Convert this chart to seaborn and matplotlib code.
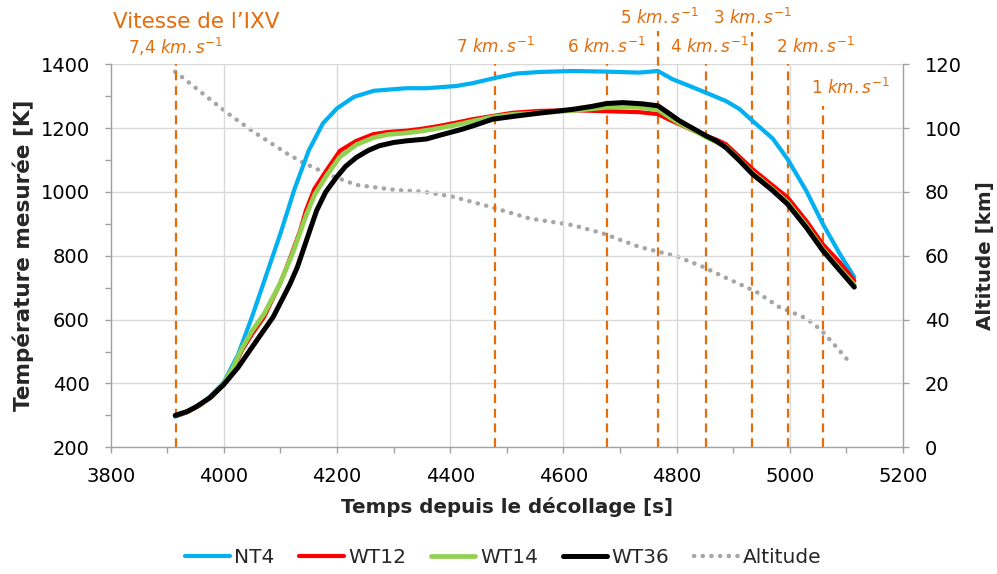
import numpy as np
import pandas as pd
import matplotlib
matplotlib.use("Agg")
import matplotlib.pyplot as plt
import matplotlib.transforms as mtransforms
from matplotlib.lines import Line2D
import seaborn as sns

# ---------------- data ----------------
nt4_t = [3914, 3935, 3952, 3975, 4000, 4025, 4050, 4075, 4100, 4125, 4150, 4175, 4200,
         4230, 4265, 4322, 4358, 4411, 4440, 4481, 4517, 4558, 4616, 4676, 4734, 4767,
         4793, 4823, 4852, 4887, 4911, 4934, 4970, 4996, 5029, 5058, 5088, 5114]
nt4_T = [296, 310, 327, 358, 404, 490, 610, 740, 870, 1010, 1130, 1215, 1262,
         1298, 1317, 1325, 1325, 1332, 1341, 1358, 1371, 1376, 1379, 1377, 1374, 1379,
         1353, 1332, 1311, 1285, 1260, 1223, 1167, 1103, 1004, 901, 807, 733]

wt12_t = [3915, 3935, 3958, 3980, 3998, 4015, 4032, 4050, 4071, 4099, 4110, 4122, 4135,
          4145, 4160, 4181, 4205, 4234, 4264, 4290, 4323, 4350, 4381, 4410, 4440, 4475,
          4510, 4558, 4617, 4676, 4734, 4767, 4785, 4805, 4830, 4852, 4870, 4887, 4910,
          4934, 4970, 4996, 5029, 5058, 5088, 5114]
wt12_T = [298, 310, 332, 360, 395, 440, 504, 555, 608, 712, 760, 817, 880,
          942, 1010, 1067, 1129, 1160, 1181, 1188, 1192, 1198, 1207, 1217, 1228, 1238,
          1248, 1254, 1256, 1253, 1250, 1244, 1228, 1212, 1192, 1176, 1164, 1150, 1112,
          1072, 1020, 983, 910, 837, 780, 722]

wt14_t = [3915, 3935, 3958, 3980, 3998, 4015, 4032, 4050, 4071, 4099, 4122, 4145, 4160,
          4181, 4205, 4234, 4264, 4290, 4323, 4350, 4381, 4410, 4440, 4475, 4510, 4558,
          4617, 4676, 4705, 4734, 4767, 4785, 4805, 4830, 4852, 4887, 4910, 4934, 4970,
          4996, 5029, 5058, 5088, 5114]
wt14_T = [300, 312, 333, 362, 397, 445, 510, 565, 618, 712, 810, 925, 990,
          1050, 1110, 1148, 1170, 1180, 1185, 1191, 1200, 1210, 1222, 1235, 1243, 1248,
          1255, 1265, 1267, 1265, 1258, 1237, 1215, 1193, 1172, 1142, 1102, 1060, 1008,
          968, 895, 822, 760, 710]

wt36_t = [3914, 3935, 3952, 3975, 3999, 4025, 4046, 4070, 4087, 4105, 4117, 4130, 4140,
          4152, 4164, 4180, 4199, 4215, 4234, 4255, 4275, 4300, 4322, 4358, 4380, 4399,
          4420, 4440, 4475, 4517, 4558, 4617, 4650, 4676, 4705, 4740, 4767, 4785, 4805,
          4830, 4852, 4870, 4887, 4910, 4934, 4970, 4996, 5029, 5058, 5088, 5114]
wt36_T = [300, 312, 328, 355, 395, 450, 504, 565, 608, 670, 712, 765, 817,
          880, 942, 1000, 1046, 1080, 1108, 1130, 1145, 1155, 1160, 1166, 1177, 1186,
          1196, 1207, 1228, 1238, 1247, 1259, 1268, 1277, 1280, 1276, 1270, 1248, 1223,
          1198, 1176, 1160, 1139, 1100, 1056, 1004, 962, 889, 817, 755, 702]

alt_t = [3914, 3970, 4011, 4052, 4111, 4140, 4187, 4234, 4305, 4352, 4405, 4470, 4540,
         4617, 4670, 4734, 4799, 4846, 4893, 4940, 4981, 5029, 5055, 5079, 5102]
alt_km = [117.7, 109.8, 104.1, 98.9, 92.1, 89.2, 85.3, 82.2, 80.6, 80.1, 78.5, 75.4, 71.7,
          69.6, 67.0, 62.8, 59.9, 56.6, 52.6, 48.8, 44.0, 40.4, 36.8, 32.1, 27.4]

vel_t = [3915, 4479, 4677, 4767, 4852, 4934, 4996, 5058]
vel_labels = ["7,4", "7", "6", "5", "4", "3", "2", "1"]

series_names = ["NT4", "WT12", "WT14", "WT36"]
x_ticks = [3800, 4000, 4200, 4400, 4600, 4800, 5000, 5200]
y_ticks = [200, 400, 600, 800, 1000, 1200, 1400]
alt_ticks = [0, 20, 40, 60, 80, 100, 120]

# ---------------- style ----------------
sns.set_theme(style="white")
plt.rcParams["font.family"] = ["DejaVu Sans"]
plt.rcParams["mathtext.fontset"] = "dejavusans"

ORANGE = "#E46C0A"
colors = {"NT4": "#00B0F0", "WT12": "#FF0000", "WT14": "#92D050", "WT36": "#000000"}
widths = {"NT4": 3.0, "WT12": 3.0, "WT14": 3.4, "WT36": 3.6}
GRAY = "#A6A6A6"
SPINE = "#A0A0A0"
DOTS = (0, (0.05, 1.9))

fig = plt.figure(figsize=(9.97, 5.74), dpi=100)
ax = fig.add_axes([0.111, 0.2207, 0.7947, 0.6673])
ax2 = ax.twinx()

frames = {
    "NT4": pd.DataFrame({"t": nt4_t, "T": nt4_T}),
    "WT12": pd.DataFrame({"t": wt12_t, "T": wt12_T}),
    "WT14": pd.DataFrame({"t": wt14_t, "T": wt14_T}),
    "WT36": pd.DataFrame({"t": wt36_t, "T": wt36_T}),
}
alt_df = pd.DataFrame({"t": alt_t, "alt": alt_km})

# gridlines
for v in y_ticks[1:]:
    ax.axhline(v, color="#D9D9D9", lw=1.0, zorder=0)
for v in x_ticks[1:-1]:
    ax.axvline(v, color="#D9D9D9", lw=1.0, zorder=0)

# velocity markers
tops = [1400, 1400, 1400, 1505, 1400, 1500, 1400, 1270]
for t, top in zip(vel_t, tops):
    ax.plot([t, t], [200, top], color=ORANGE, lw=1.6, ls=(0, (4, 2.6)),
            clip_on=False, zorder=1)

for name in series_names:
    sns.lineplot(data=frames[name], x="t", y="T", ax=ax, color=colors[name],
                 lw=widths[name], solid_capstyle="round", solid_joinstyle="round",
                 estimator=None, sort=False, zorder=3, legend=False)

sns.lineplot(data=alt_df, x="t", y="alt", ax=ax2, color=GRAY, lw=3.2,
             estimator=None, sort=False, legend=False)
ax2.lines[-1].set_linestyle(DOTS)
ax2.lines[-1].set_dash_capstyle("round")

ax.set_xlim(3800, 5200)
ax.set_ylim(200, 1400)
ax2.set_ylim(0, 120)
ax.set_xticks(x_ticks)
ax.set_yticks(y_ticks)
ax2.set_yticks(alt_ticks)
ax.set_xticks(np.arange(3900, 5200, 200), minor=True)
ax.set_yticks(np.arange(300, 1400, 200), minor=True)

ax.patch.set_visible(False)
ax2.set_zorder(-1)
ax.set_zorder(1)
ax2.patch.set_visible(True)
ax2.patch.set_facecolor("white")

for a in (ax, ax2):
    for s in a.spines.values():
        s.set_color(SPINE)
        s.set_linewidth(1.0)
    a.spines["top"].set_visible(False)
ax.spines["right"].set_visible(False)
ax2.spines["left"].set_visible(False)
ax2.spines["bottom"].set_visible(False)

ax.tick_params(axis="both", which="both", direction="out", length=4.6, width=1.0,
               color=SPINE, labelsize=14, labelcolor="black")
ax.tick_params(axis="y", which="both", left=True, right=False, pad=10.5)
ax.tick_params(axis="x", which="both", bottom=True, top=False, pad=9.5)
ax2.tick_params(axis="y", which="both", direction="out", length=4.6, width=1.0,
                color=SPINE, labelsize=14, labelcolor="black", right=True, pad=11)

ax.set_xlabel("Temps depuis le décollage [s]", fontsize=14.3, fontweight="bold",
              labelpad=8)
ax.set_ylabel("Température mesurée [K]", fontsize=15.5, fontweight="bold", labelpad=5)
ax2.set_ylabel("Altitude [km]", fontsize=14.3, fontweight="bold", labelpad=10)

# velocity labels
trans = mtransforms.blended_transform_factory(ax.transData, fig.transFigure)
label_x = [3915, 4480, 4676, 4769, 4858, 4934, 5046, 5108]
label_y = [0.918, 0.918, 0.918, 0.968, 0.918, 0.968, 0.918, 0.846]
for lx, ly, lab in zip(label_x, label_y, vel_labels):
    ax.text(lx, ly, lab + r" $\mathit{km.s}^{\mathit{-1}}$", transform=trans,
            ha="center", va="center", color=ORANGE, fontsize=12.2)
ax.text(3805, 0.962, "Vitesse de l’IXV", transform=trans, ha="left", va="center",
        color=ORANGE, fontsize=15.5)

# legend
handles = [Line2D([], [], color=colors[n], lw=widths[n], solid_capstyle="round")
           for n in series_names]
handles.append(Line2D([], [], color=GRAY, lw=3.2, ls=DOTS, dash_capstyle="round"))
fig.legend(handles, series_names + ["Altitude"], loc="center",
           bbox_to_anchor=(0.505, 0.028), ncol=5, frameon=False, fontsize=14.5,
           handlelength=2.2, handletextpad=0.22, columnspacing=1.24)

fig.savefig("out.png", dpi=100)
